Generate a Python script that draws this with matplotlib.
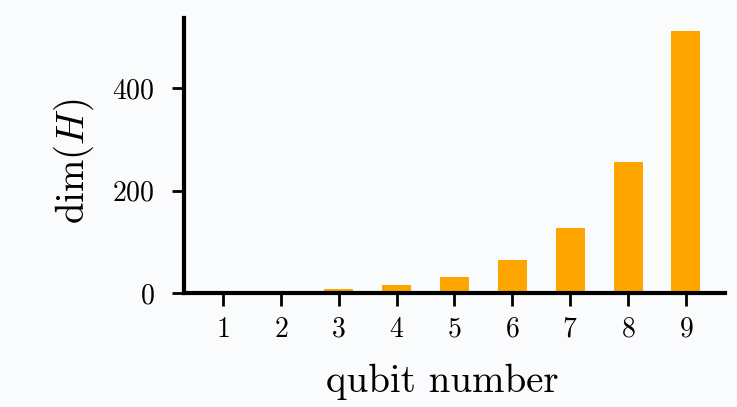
import matplotlib
matplotlib.use('Agg')
import matplotlib.pyplot as plt

qubits = [1, 2, 3, 4, 5, 6, 7, 8, 9]
dims = [2, 4, 8, 16, 32, 64, 128, 256, 512]
y_ticks = [0, 200, 400]

plt.rcParams['font.family'] = 'cmr10'
plt.rcParams['mathtext.fontset'] = 'cm'
plt.rcParams['axes.formatter.use_mathtext'] = True

bg = '#fafbfd'
fig = plt.figure(figsize=(7.37, 4.07), dpi=100, facecolor=bg)
ax = fig.add_axes([184/737, 1 - 293/407, (725-184)/737, (293-18)/407])
ax.set_facecolor(bg)

ax.bar(qubits, dims, width=0.5, color='orange')

ax.set_xticks(qubits)
ax.set_yticks(y_ticks)
ax.tick_params(direction='out', length=9, width=2, labelsize=20)
ax.tick_params(axis='x', pad=8)
ax.tick_params(axis='y', pad=12)
for s in ['top', 'right']:
    ax.spines[s].set_visible(False)
for s in ['left', 'bottom']:
    ax.spines[s].set_linewidth(3)

ax.set_xlabel('qubit number', fontsize=28, labelpad=15, x=0.478)
ax.set_ylabel(r'$\mathrm{dim}(H)$', fontsize=28, labelpad=12, y=0.478)

fig.savefig('out.png', dpi=100, facecolor=bg)
